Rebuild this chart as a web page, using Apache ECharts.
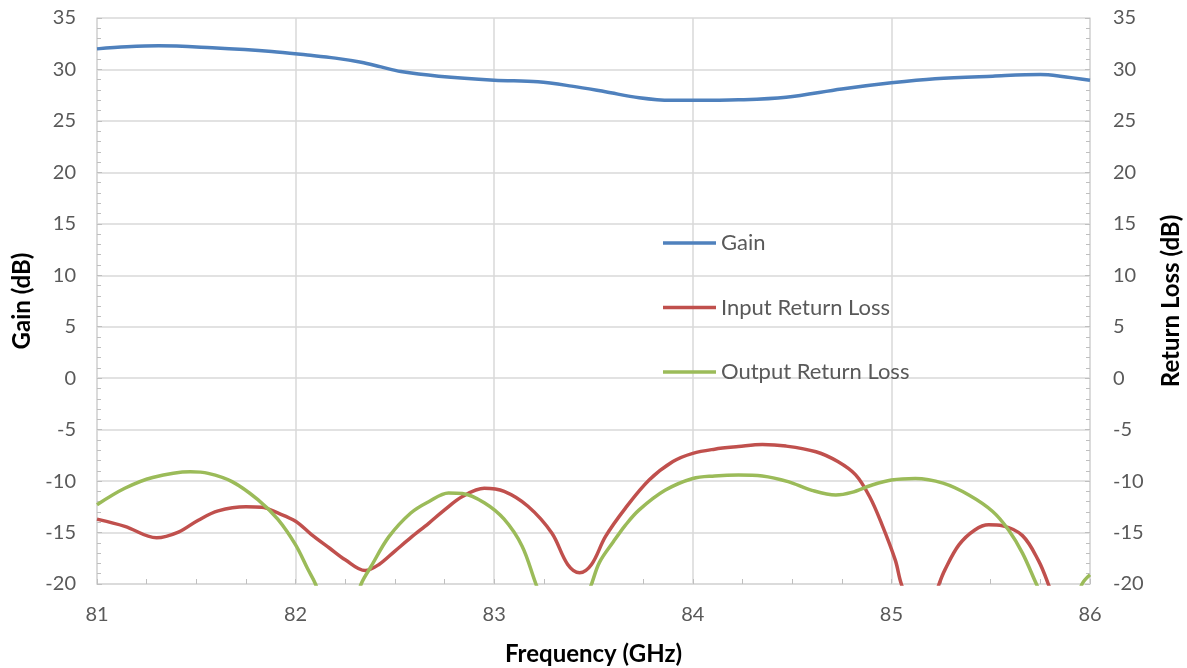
<!DOCTYPE html>
<html><head><meta charset="utf-8">
<script src="https://cdn.jsdelivr.net/npm/echarts@6/dist/echarts.min.js"></script>
<style>html,body{margin:0;padding:0;background:#fff}#c{width:1187px;height:668px}</style>
</head><body><div id="c"></div>
<script>
var yTicks = [-20, -15, -10, -5, 0, 5, 10, 15, 20, 25, 30, 35];
var xTicks = [81, 82, 83, 84, 85, 86];

var gainFreq = [81.0, 81.15, 81.31, 81.58, 81.88, 82.06, 82.2, 82.33, 82.43, 82.53, 82.72, 83.0, 83.22, 83.39, 83.56, 83.73, 83.89, 84.0, 84.23, 84.47, 84.75, 85.0, 85.22, 85.51, 85.75, 85.85, 86.0];
var gainVals = [32.0, 32.2, 32.3, 32.1, 31.75, 31.4, 31.1, 30.7, 30.25, 29.8, 29.35, 28.96, 28.8, 28.38, 27.83, 27.25, 27.0, 27.0, 27.05, 27.3, 28.1, 28.7, 29.1, 29.35, 29.5, 29.35, 28.95];

var inFreq = [81.0, 81.14, 81.3, 81.41, 81.51, 81.61, 81.75, 81.83, 81.91, 82.0, 82.08, 82.17, 82.25, 82.35, 82.42, 82.5, 82.58, 82.67, 82.75, 82.84, 82.95, 83.05, 83.17, 83.29, 83.37, 83.43, 83.49, 83.56, 83.66, 83.78, 83.9, 84.0, 84.11, 84.23, 84.35, 84.47, 84.62, 84.73, 84.82, 84.89, 84.95, 85.02, 85.05, 85.15, 85.24, 85.27, 85.34, 85.42, 85.49, 85.56, 85.66, 85.74, 85.79, 85.9, 86.0];
var inVals = [-13.7, -14.4, -15.5, -14.95, -13.8, -12.9, -12.5, -12.55, -13.1, -13.9, -15.2, -16.5, -17.65, -18.7, -18.1, -16.8, -15.5, -14.1, -12.8, -11.5, -10.7, -11.0, -12.45, -15.05, -18.1, -18.9, -18.1, -15.4, -12.65, -9.9, -8.1, -7.3, -6.9, -6.65, -6.45, -6.6, -7.15, -8.1, -9.4, -11.5, -14.1, -17.7, -20, -25, -20, -18.6, -16.2, -14.75, -14.25, -14.35, -15.3, -17.7, -20, -26, -32];

var outFreq = [81.0, 81.14, 81.28, 81.47, 81.56, 81.68, 81.81, 81.91, 82.0, 82.06, 82.1, 82.22, 82.33, 82.38, 82.47, 82.58, 82.67, 82.77, 82.84, 82.95, 83.05, 83.14, 83.21, 83.35, 83.49, 83.53, 83.6, 83.66, 83.73, 83.86, 84.0, 84.11, 84.23, 84.35, 84.48, 84.6, 84.72, 84.8, 84.9, 85.0, 85.12, 85.26, 85.39, 85.51, 85.59, 85.66, 85.73, 85.85, 85.96, 86.0];
var outVals = [-12.3, -10.7, -9.65, -9.1, -9.25, -10.05, -11.8, -13.7, -16.2, -18.5, -20, -26, -20, -18.3, -15.4, -13.1, -12.0, -11.15, -11.2, -12.1, -13.7, -16.3, -20, -27, -20, -17.9, -15.9, -14.3, -12.8, -10.9, -9.75, -9.5, -9.4, -9.5, -10.05, -10.9, -11.35, -11.1, -10.4, -9.9, -9.75, -10.2, -11.35, -12.95, -14.75, -17.0, -20, -25, -20, -19.1];

function pairs(xs, ys) { return xs.map(function (x, i) { return [x, ys[i]]; }); }

var FONT = 'Lato, "Liberation Sans", sans-serif';
var labelStyle = { color: '#595959', fontSize: 20, fontFamily: FONT };
var nameStyle = { color: '#000', fontSize: 24, fontWeight: 'bold', fontFamily: FONT };
var lineStyleAxis = { show: true, onZero: false, lineStyle: { color: '#d9d9d9', width: 1.5 } };

function yAxis(name, pos, margin, gap) {
  return {
    type: 'value', position: pos, min: yTicks[0], max: yTicks[yTicks.length - 1], interval: 5,
    name: name, nameLocation: 'middle', nameRotate: 90, nameGap: gap, nameTextStyle: nameStyle,
    axisLine: lineStyleAxis,
    axisTick: { show: true, inside: true, length: 5, lineStyle: { color: '#bfbfbf' } },
    minorTick: { show: true, splitNumber: 5, length: 4, lineStyle: { color: '#bfbfbf' } },
    axisLabel: Object.assign({ margin: margin }, labelStyle),
    splitLine: { show: pos === 'left', lineStyle: { color: '#d9d9d9', width: 1.5 } }
  };
}

var chart = echarts.init(document.getElementById('c'));
chart.setOption({
  animation: false,
  grid: { left: 97, right: 97, top: 18, bottom: 84, containLabel: false, outerBoundsMode: 'none' },
  legend: {
    orient: 'vertical', left: 658, top: 227, itemGap: 42.5,
    icon: 'rect', itemWidth: 53, itemHeight: 3.5,
    textStyle: { color: '#595959', fontSize: 22, fontFamily: FONT },
    data: ['Gain', 'Input Return Loss', 'Output Return Loss']
  },
  xAxis: {
    type: 'value', min: xTicks[0], max: xTicks[xTicks.length - 1], interval: 1,
    name: 'Frequency (GHz)', nameLocation: 'middle', nameGap: 58, nameTextStyle: nameStyle,
    axisLine: lineStyleAxis,
    axisTick: { show: true, inside: true, length: 5, lineStyle: { color: '#bfbfbf' } },
    minorTick: { show: true, splitNumber: 4, length: 5, lineStyle: { color: '#bfbfbf' } },
    axisLabel: Object.assign({ margin: 21 }, labelStyle),
    splitLine: { show: true, lineStyle: { color: '#d9d9d9', width: 1.5 } }
  },
  yAxis: [yAxis('Gain (dB)', 'left', 21, 61), yAxis('Return Loss (dB)', 'right', 23, 69)],
  series: [
    { name: 'Gain', type: 'line', yAxisIndex: 0, data: pairs(gainFreq, gainVals), smooth: 0.35, symbol: 'none',
      lineStyle: { color: '#4f81bd', width: 3.5 }, itemStyle: { color: '#4f81bd' } },
    { name: 'Input Return Loss', type: 'line', yAxisIndex: 1, data: pairs(inFreq, inVals), smooth: 0.35, symbol: 'none',
      lineStyle: { color: '#c0504d', width: 3.5 }, itemStyle: { color: '#c0504d' } },
    { name: 'Output Return Loss', type: 'line', yAxisIndex: 1, data: pairs(outFreq, outVals), smooth: 0.35, symbol: 'none',
      lineStyle: { color: '#9bbb59', width: 3.5 }, itemStyle: { color: '#9bbb59' } }
  ]
});
</script>
</body></html>
